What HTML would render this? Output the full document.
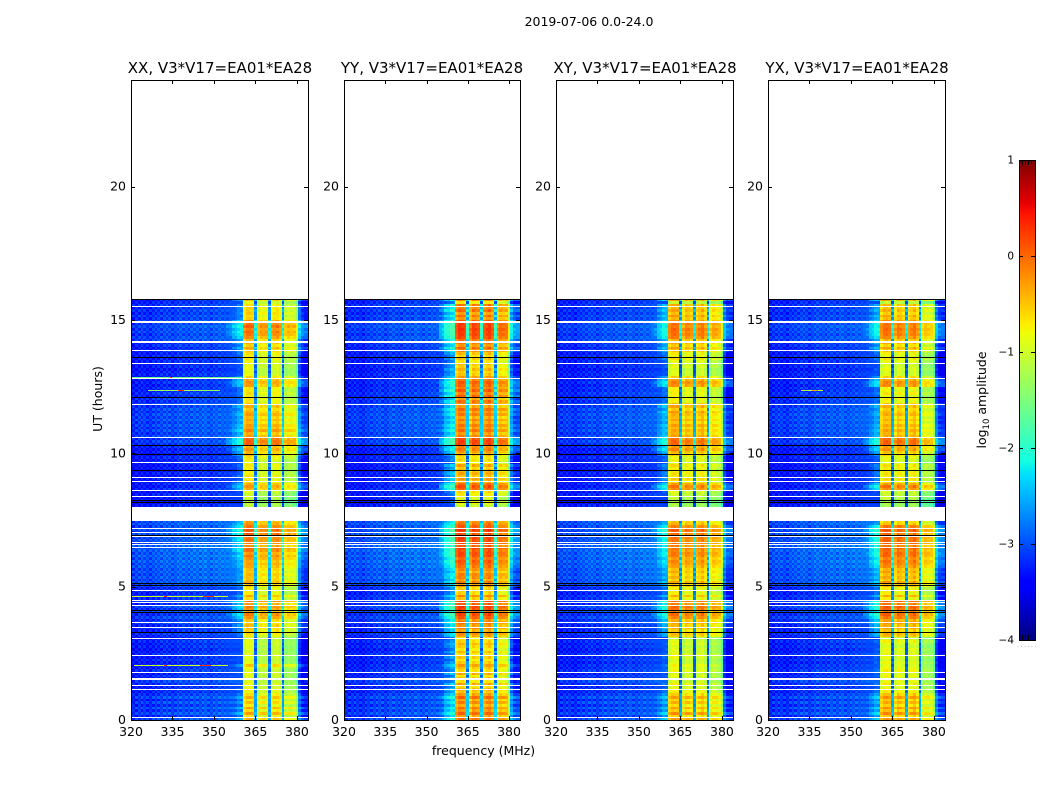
<!DOCTYPE html>
<html lang="en">
<head>
<meta charset="utf-8">
<title>2019-07-06 0.0-24.0</title>
<style>
html,body{margin:0;padding:0;background:#fff;}
#figure{position:relative;width:1050px;height:800px;overflow:hidden;background:#fff;}
canvas{position:absolute;display:block;image-rendering:pixelated;}
svg{position:absolute;left:0;top:0;}
text{font-family:"DejaVu Sans","Liberation Sans",sans-serif;fill:#000;}
</style>
</head>
<body>
<div id="figure">
<canvas id="heat0" width="177" height="640" style="left:131px;top:80px"></canvas>
<canvas id="heat1" width="176" height="640" style="left:344px;top:80px"></canvas>
<canvas id="heat2" width="177" height="640" style="left:556px;top:80px"></canvas>
<canvas id="heat3" width="177" height="640" style="left:768px;top:80px"></canvas>
<canvas id="cbar" width="16" height="480" style="left:1019px;top:160px"></canvas>
<svg id="overlay" width="1050" height="800">
<text x="589" y="26" text-anchor="middle" font-size="12.5">2019-07-06 0.0-24.0</text>
<text x="220" y="73" text-anchor="middle" font-size="15">XX, V3*V17=EA01*EA28</text>
<text x="432" y="73" text-anchor="middle" font-size="15">YY, V3*V17=EA01*EA28</text>
<text x="645" y="73" text-anchor="middle" font-size="15">XY, V3*V17=EA01*EA28</text>
<text x="857" y="73" text-anchor="middle" font-size="15">YX, V3*V17=EA01*EA28</text>
<text x="483.5" y="755" text-anchor="middle" font-size="12.5">frequency (MHz)</text>
<text x="102" y="399" text-anchor="middle" font-size="12.5" transform="rotate(-90 102 399)">UT (hours)</text>
<text x="986" y="400" text-anchor="middle" font-size="12.5" transform="rotate(-90 986 400)">log<tspan font-size="8.5" dy="3">10</tspan><tspan dy="-3"> amplitude</tspan></text>
<text x="1017" y="647" font-size="6" letter-spacing="1.6" style="fill:#888">......</text>
</svg>
</div>
<script>
// Axis categories and tick labels
const xTickMHz = [320, 335, 350, 365, 380];
const yTickHours = [0, 5, 10, 15, 20];
const cbarTicks = [1, 0, -1, -2, -3, -4];
const cbarTickLabels = ['1', '0', '\u22121', '\u22122', '\u22123', '\u22124'];

// Signal level (log10 amplitude) per 0.1 h row, one array per polarisation
const rowsXX = [
-.2,-.55,-.1,-.5,-.15,-.6,-.3,-.55,-.2,-.5,-.65,
-.6,-.7,-.65,-.75,-.8,-.7,-.7,-.75,-.65,
-.3,-.75,-.8,-.75,-.7,-.8,-.75,-.8,-.7,-.75,-.8,
-.55,-.45,-.4,-.35,-.3,-.4,-.35,
-.05,.05,-.2,-.1,.05,-.15,.1,
-.5,-.2,-.6,-.55,-.6,
-.35,-.2,-.3,-.35,-.25,-.4,-.3,
-.2,-.1,-.2,-.05,.05,-.1,.1,.15,-.05,.05,.1,
.1,.2,.15,.25,.1,
-.1,-.15,-.3,-.3,-.3,-.3,-.3,
-.9,-1,-.95,-.9,-.85,-.75,
-.2,-.1,-.2,
-.5,-.6,-.5,-.6,-.65,-.6,-.55,
-.7,-.6,-.5,-.3,
-.25,-.1,-.2,
.2,.25,.15,
-.1,-.25,.05,-.2,-.1,-.3,-.15,-.3,-.1,-.25,-.35,-.2,-.4,
-.55,-.5,-.6,-.45,-.55,-.5,
-.15,-.05,-.2,-.4,
-.7,-.75,-.7,-.65,-.7,
-.6,-.55,-.6,-.5,
-.35,-.2,-.4,-.25,-.3,
-.05,.1,.15,.05,.2,.1,-.1,
-.4,-.5,-.35,-.45,-.4,-.5,
-.7,-.3];
const rowsYY = [
.1,-.2,.15,-.15,.05,-.3,0,-.25,.15,-.2,-.4,
-.3,-.5,-.2,-.55,-.4,-.6,-.25,-.5,-.4,
-.15,-.45,-.6,-.4,-.55,-.35,-.6,-.45,-.3,-.5,-.6,
-.2,-.05,-.25,0,-.15,.05,-.1,
.2,.3,.1,.25,.35,.15,.3,
-.4,-.05,-.5,-.45,-.5,
-.15,0,-.2,-.05,0,-.25,-.05,
.05,.15,.2,.1,.25,.3,.2,.35,.15,.3,.25,
.35,.2,.3,.4,.2,
.05,-.05,-.1,-.1,-.1,-.1,-.1,
-.85,-.7,-.9,-.8,-.6,-.5,
.15,.25,.1,
-.3,-.15,-.4,-.2,-.35,-.45,-.2,
-.65,-.5,-.55,-.35,
-.15,0,-.05,
.3,.35,.25,
0,-.2,.1,-.15,.05,-.2,0,-.25,.05,-.15,.1,-.2,-.05,
.05,-.2,.15,-.05,.2,0,
.1,.2,0,-.15,
-.4,-.45,-.3,-.45,-.35,
-.55,-.4,-.5,-.35,
-.05,.1,-.15,0,.05,
.25,.35,.3,.4,.3,.35,.15,
-.15,.05,-.2,.1,-.05,.05,
-.6,-.05];
const rowsXY = [
-.2,-.55,-.1,-.5,-.25,-.6,-.3,-.55,-.2,-.5,-.65,
-.7,-.8,-.65,-.85,-.9,-.75,-.85,-.7,-.8,
-.65,-.85,-.9,-.75,-.7,-.9,-.8,-.9,-.75,-.85,-.95,
-.45,-.35,-.5,-.3,-.4,-.25,-.35,
-.05,.05,-.1,0,.1,-.1,.05,
-.65,-.3,-.7,-.65,-.7,
-.4,-.25,-.5,-.35,-.45,-.3,-.4,
-.25,-.15,-.1,-.2,-.05,0,-.1,.05,-.1,0,-.05,
.05,0,.1,.15,-.05,
-.35,-.4,-.55,-.55,-.55,-.55,-.55,
-1.1,-1.2,-1.05,-1,-.9,-.8,
-.1,0,-.2,
-.6,-.45,-.65,-.55,-.7,-.65,-.55,
-.8,-.7,-.75,-.5,
-.3,-.1,-.2,
.05,.1,0,
-.2,-.35,-.25,-.4,-.2,-.45,-.25,-.4,-.3,-.2,-.45,-.25,-.35,
-.7,-.65,-.75,-.65,-.7,-.65,
-.15,-.05,-.25,-.45,
-.85,-.8,-.9,-.75,-.85,
-.75,-.6,-.7,-.65,
-.4,-.25,-.45,-.3,-.35,
-.05,.05,0,.1,-.05,.05,-.2,
-.35,-.2,-.4,-.25,-.35,-.3,
-.95,-.25];
const rowsYX = [
-.15,-.45,-.05,-.4,-.1,-.5,-.25,-.45,-.1,-.4,-.6,
-.65,-.75,-.6,-.7,-.8,-.65,-.75,-.6,-.7,
-.75,-.7,-.85,-.75,-.65,-.8,-.7,-.85,-.75,-.65,-.85,
-.35,-.25,-.4,-.2,-.3,-.15,-.25,
.05,.15,-.05,.1,.2,0,.15,
-.65,-.25,-.65,-.6,-.65,
-.3,-.15,-.4,-.25,-.35,-.2,-.3,
-.1,0,.05,-.05,.1,.15,.05,.2,0,.15,.1,
.15,.05,.15,.2,.05,
-.4,-.45,-.55,-.55,-.55,-.55,-.55,
-1.1,-1.15,-1.05,-.95,-.9,-.85,
-.1,.05,-.2,
-.6,-.5,-.65,-.55,-.65,-.6,-.55,
-.8,-.75,-.7,-.5,
-.35,-.15,-.2,
.1,.15,.05,
-.25,-.35,-.2,-.4,-.25,-.45,-.3,-.45,-.25,-.35,-.45,-.3,-.4,
-.7,-.6,-.75,-.55,-.7,-.65,
-.1,-.05,-.25,-.45,
-.8,-.85,-.75,-.8,-.85,
-.7,-.6,-.75,-.65,
-.4,-.25,-.5,-.3,-.35,
-.1,.05,0,.1,0,.05,-.15,
-.35,-.25,-.45,-.3,-.4,-.35,
-.95,-.25];

// Per-channel signal response, 64 channels from 320 MHz, one array per polarisation
const chanXX = [-4,-4,-4,-4,-4,-4,-4,-4,-4,-4,-4,-4,-4,-4,-4,-4,-4,-4,-4,-4,-4,-4,-4,-4,-4,-4,-4,-4,-4,-4,-4,-4,-4,-4,-4,
-2.9,-2.75,-2.6,-2.45,-2.35,-2.25,
-.35,-.15,-.1,-.22,-2.3,-.5,-.4,-.35,-.42,-2.3,-.4,-.25,-.3,-.4,-2.3,-.6,-.55,-.55,-.62,-1.0,-2.45,-2.7,-2.9];
const chanYY = [-4,-4,-4,-4,-4,-4,-4,-4,-4,-4,-4,-4,-4,-4,-4,-4,-4,-4,-4,-4,-4,-4,-4,-4,-4,-4,-4,-4,-4,-4,-4,-4,-4,-4,-4,
-2.85,-2.65,-2.45,-2.3,-2.2,-2.1,
-.3,-.08,-.05,-.2,-2.4,-.35,-.15,-.12,-.25,-2.4,-.3,-.1,-.12,-.25,-2.4,-.45,-.35,-.35,-.45,-1.1,-2.55,-2.8,-2.95];
const chanXY = [-4,-4,-4,-4,-4,-4,-4,-4,-4,-4,-4,-4,-4,-4,-4,-4,-4,-4,-4,-4,-4,-4,-4,-4,-4,-4,-4,-4,-4,-4,-4,-4,-4,-4,-4,
-2.85,-2.65,-2.45,-2.3,-2.2,-2.1,
-.25,-.05,0,-.12,-2.3,-.3,-.15,-.12,-.28,-2.3,-.35,-.15,-.12,-.28,-2.35,-.5,-.35,-.35,-.5,-1.0,-2.45,-2.7,-2.85];
const chanYX = [-4,-4,-4,-4,-4,-4,-4,-4,-4,-4,-4,-4,-4,-4,-4,-4,-4,-4,-4,-4,-4,-4,-4,-4,-4,-4,-4,-4,-4,-4,-4,-4,-4,-4,-4,
-2.9,-2.7,-2.5,-2.35,-2.25,-2.15,
-.3,-.08,-.02,-.15,-2.3,-.28,-.12,-.12,-.28,-2.3,-.35,-.15,-.12,-.28,-2.35,-.65,-.55,-.55,-.65,-1.1,-2.45,-2.7,-2.85];

// Fine-scale amplitude differences seen on alternate rows, by channel
const bandChanOdd = [0,0,0,0,0,0,0,0,0,0,0,0,0,0,0,0,0,0,0,0,0,0,0,0,0,0,0,0,0,0,0,0,0,0,0,
.1,-.1,.15,-.05,.12,-.08,
.12,.06,-.06,.1,.25,-.12,.08,-.1,.05,.2,.1,-.08,.12,-.05,.3,-.1,.06,-.08,.1,.1,.12,-.1,.1];

// Noise floor per 0.1 h row and per channel, shared by the panels
const floorRows = [
.05,-.1,.09,-.06,.1,-.09,.06,-.12,.08,-.05,-.13,-.07,-.15,-.08,.02,-.14,-.06,-.16,-.04,-.12,
-.09,-.17,-.07,-.15,-.06,-.14,-.18,-.09,-.16,-.07,-.18,-.1,-.03,-.13,-.05,-.11,.02,-.08,.06,-.07,
.09,-.05,.07,-.1,.04,-.07,-.03,-.13,-.05,-.11,.05,.13,.05,.15,.07,.16,.08,.18,.1,.2,
.12,.22,.13,.2,.1,.19,.09,.15,.06,.14,.03,.12,.05,.15,.09,.05,.05,.05,.05,.05,
-.18,-.24,-.15,-.22,-.13,-.2,-.1,-.18,-.12,-.21,-.15,-.22,-.16,-.24,-.18,-.21,-.13,-.2,-.12,-.21,
-.15,-.2,-.1,-.06,.02,-.05,.06,-.03,.07,-.02,.08,0,.1,.02,.08,-.02,.06,-.03,.04,-.08,
-.03,-.11,-.05,-.13,-.08,-.16,-.08,-.14,-.18,-.11,-.15,-.21,-.14,-.2,-.12,-.17,-.09,-.15,-.07,-.14,
-.05,-.11,.02,.06,-.03,.08,.02,.09,0,.05,-.06,.03,-.09,-.02,-.1,-.05,-.12,-.15];
const floorChan = [
-3.15,-3.32,-3.02,-3.25,-2.98,-3.22,-3.05,-3.3,-2.98,-3.18,
-2.95,-3.18,-2.9,-3.12,-2.9,-3.2,-2.96,-3.1,-2.85,-3.1,
-2.92,-3.16,-2.85,-3.05,-2.88,-3.14,-2.82,-3.02,-2.9,-3.12,
-2.85,-3.06,-2.82,-3.02,-2.85,-2.98,-2.85,-2.9,-2.88,-2.9,
-2.9,-2.9,-2.9,-2.9,-2.9,-2.9,-2.9,-2.9,-2.9,-2.9,
-2.9,-2.9,-2.9,-2.9,-2.9,-2.9,-2.9,-2.9,-2.9,-2.9,
-3.05,-3.2,-3.4,-3.25];
const floorChanOdd = [
-3.3,-3.08,-3.28,-3.0,-3.24,-3.0,-3.26,-3.04,-3.22,-2.98,
-3.2,-2.94,-3.16,-2.9,-3.18,-2.96,-3.14,-2.86,-3.12,-2.9,
-3.1,-2.88,-3.14,-2.86,-3.08,-2.86,-3.06,-2.84,-3.1,-2.88,
-3.06,-2.84,-3.04,-2.86,-3.0,-2.88,-2.94,-2.9,-2.9,-2.88,
-2.9,-2.9,-2.9,-2.9,-2.9,-2.9,-2.9,-2.9,-2.9,-2.9,
-2.9,-2.9,-2.9,-2.9,-2.9,-2.9,-2.9,-2.9,-2.9,-2.9,
-3.15,-3.02,-3.28,-3.42];

// Narrow interference rows: panel index, hour, start MHz, end MHz, level
const rfiPanel = [0,0,0,0,0,0,0,0,0,0,3,3];
const rfiHour  = [2.05,2.05,2.05,4.65,4.65,4.65,12.37,12.37,12.85,12.85,12.37,12.37];
const rfiFrom  = [321,332,345,320,332,346,326,337,320,334,332,336];
const rfiTo    = [355,333,349,355,333,350,352,339,360,335,340,338];
const rfiLevel = [-1.0,.4,.3,-1.0,.4,.3,-1.35,.3,-1.6,.3,-1.2,-.3];

// Flagged time ranges common to all panels (hours and duration in hours)
const whiteHours = [.09,1.12,1.27,1.5,1.76,2.4,3.04,3.45,3.65,4.27,4.39,4.46,4.84,6.44,6.56,6.65,6.87,7.01,7.16,7.47,7.5,8.35,8.59,8.92,9.06,9.65,10.58,11.81,12.77,13.35,13.84,14.12,14.17,14.9,15.5];
const whiteSpans = [.04,.04,.04,.08,.04,.04,.04,.04,.04,.04,.04,.04,.04,.04,.04,.04,.04,.04,.04,.04,.49,.04,.04,.04,.04,.04,.04,.04,.04,.04,.04,.04,.04,.08,.04];
const blackHours = [3.27,4.01,4.1,5.02,5.1,6.9,8.12,8.22,9.33,9.93,10.27,12.06,13.58,15.73];
const blackSpans = [.04,.04,.04,.04,.04,.04,.04,.04,.04,.04,.04,.04,.04,.04];

const panelRows = [rowsXX, rowsYY, rowsXY, rowsYX];
const panelChans = [chanXX, chanYY, chanXY, chanYX];
const panelNames = ['xx', 'yy', 'xy', 'yx'];
const panelLeft = [131, 344, 556, 768];
const panelWidth = [177, 176, 177, 177];
const PLOT_TOP = 80, PLOT_H = 640, HOUR_MAX = 24, F_MIN = 320, F_MAX = 384;
const ROW_HOURS = 0.1;

function xScale(mhz, w) { return (mhz - F_MIN) / (F_MAX - F_MIN) * w; }
function yScale(h) { return PLOT_H - h / HOUR_MAX * PLOT_H; }
function jet(v) {
  const t = Math.max(0, Math.min(1, (v + 4) / 5));
  const ramp = (pts) => {
    for (let i = 1; i < pts.length; i++) {
      if (t <= pts[i][0]) {
        const a = pts[i - 1], b = pts[i];
        return a[1] + (b[1] - a[1]) * (t - a[0]) / (b[0] - a[0]);
      }
    }
    return pts[pts.length - 1][1];
  };
  const r = ramp([[0, 0], [.35, 0], [.66, 1], [.89, 1], [1, .5]]);
  const g = ramp([[0, 0], [.125, 0], [.375, 1], [.64, 1], [.91, 0], [1, 0]]);
  const b = ramp([[0, .5], [.11, 1], [.34, 1], [.65, 0], [1, 0]]);
  return 'rgb(' + Math.round(r * 255) + ',' + Math.round(g * 255) + ',' + Math.round(b * 255) + ')';
}

function drawPanel(p) {
  const ctx = document.getElementById('heat' + p).getContext('2d');
  const w = panelWidth[p];
  const rows = panelRows[p], chans = panelChans[p];
  ctx.fillStyle = '#fff';
  ctx.fillRect(0, 0, w, PLOT_H);
  rows.forEach((level, t) => {
    const y0 = Math.round(yScale((t + 1) * ROW_HOURS));
    const y1 = Math.round(yScale(t * ROW_HOURS));
    const odd = t % 2 === 1;
    chans.forEach((offset, c) => {
      const f = F_MIN + c;
      const x0 = Math.max(0, Math.round(xScale(f - .5, w)));
      const x1 = c === chans.length - 1 ? w : Math.round(xScale(f + .5, w));
      const noise = floorRows[t] + (odd ? floorChanOdd[c] : floorChan[c]);
      const signal = level + offset + (odd ? bandChanOdd[c] : 0);
      ctx.fillStyle = jet(Math.max(noise, signal));
      ctx.fillRect(x0, y0, x1 - x0, y1 - y0);
    });
  });
  rfiPanel.forEach((owner, i) => {
    if (owner !== p) return;
    const x0 = Math.round(xScale(rfiFrom[i], w));
    const x1 = Math.round(xScale(rfiTo[i], w));
    ctx.fillStyle = jet(rfiLevel[i]);
    ctx.fillRect(x0, Math.round(yScale(rfiHour[i])), x1 - x0, 1);
  });
  const band = (hours, spans, color) => {
    ctx.fillStyle = color;
    hours.forEach((h, i) => {
      const top = Math.round(yScale(h + spans[i]));
      const height = Math.max(1, Math.round(spans[i] / HOUR_MAX * PLOT_H));
      ctx.fillRect(0, top, w, height);
    });
  };
  band(whiteHours, whiteSpans, '#fff');
  band(blackHours, blackSpans, '#000');
}
panelRows.forEach((_, p) => drawPanel(p));

const cbarCtx = document.getElementById('cbar').getContext('2d');
for (let y = 0; y < 480; y++) {
  cbarCtx.fillStyle = jet(1 - y / 480 * 5);
  cbarCtx.fillRect(0, y, 16, 1);
}

const SVG_NS = 'http://www.w3.org/2000/svg';
const overlay = document.getElementById('overlay');
function svgEl(tag, attrs) {
  const el = document.createElementNS(SVG_NS, tag);
  Object.keys(attrs).forEach(k => el.setAttribute(k, attrs[k]));
  overlay.appendChild(el);
  return el;
}

panelNames.forEach((name, p) => {
  const L = panelLeft[p], w = panelWidth[p];
  const frame = svgEl('rect', {x: L + .5, y: PLOT_TOP + .5, width: w, height: PLOT_H, fill: 'none', stroke: '#000', 'stroke-width': 1});
  
  
  xTickMHz.forEach(m => {
    const x = Math.round(L + xScale(m, w)) + .5;
    const bottomTick = svgEl('line', {x1: x, x2: x, y1: PLOT_TOP + PLOT_H, y2: PLOT_TOP + PLOT_H - 4, stroke: '#000'});
    
    
    const topTick = svgEl('line', {x1: x, x2: x, y1: PLOT_TOP, y2: PLOT_TOP + 4, stroke: '#000'});
    
    
    const label = svgEl('text', {x: L + xScale(m, w), y: 736, 'text-anchor': 'middle', 'font-size': 12.5});
    label.textContent = String(m);
    
    
  });
  yTickHours.forEach(h => {
    const y = Math.round(PLOT_TOP + yScale(h)) + .5;
    const leftTick = svgEl('line', {x1: L, x2: L + 4, y1: y, y2: y, stroke: '#000'});
    
    
    const rightTick = svgEl('line', {x1: L + w, x2: L + w - 4, y1: y, y2: y, stroke: '#000'});
    
    
    const label = svgEl('text', {x: L - 5, y: PLOT_TOP + yScale(h) + 4, 'text-anchor': 'end', 'font-size': 12.5});
    label.textContent = String(h);
    
    
  });
});

const cbarFrame = svgEl('rect', {x: 1019.5, y: 160.5, width: 16, height: 480, fill: 'none', stroke: '#000', 'stroke-width': 1});


function cbarY(v) { return 160 + (1 - v) / 5 * 480; }
cbarTicks.forEach((v, i) => {
  const y = Math.round(cbarY(v)) + .5;
  const tickL = svgEl('line', {x1: 1019, x2: 1023, y1: y, y2: y, stroke: '#000'});
  
  
  const tickR = svgEl('line', {x1: 1035, x2: 1031, y1: y, y2: y, stroke: '#000'});
  
  
  const label = svgEl('text', {x: 1014, y: cbarY(v) + 3.5, 'text-anchor': 'end', 'font-size': 10.5});
  label.textContent = cbarTickLabels[i];
  
  
});
[1022.5, 1025.5, 1028.5, 1031.5].forEach(x => {
  const topMinor = svgEl('line', {x1: x, x2: x, y1: 160, y2: 165, stroke: '#000'});
  
  
  const bottomMinor = svgEl('line', {x1: x, x2: x, y1: 640, y2: 635, stroke: '#000'});
  
  
});
</script>
</body>
</html>
